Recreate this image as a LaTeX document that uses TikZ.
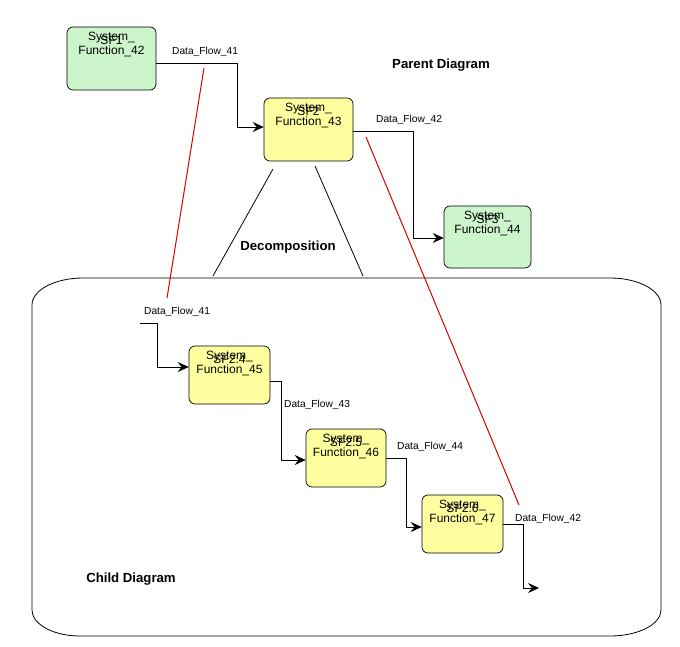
\documentclass[tikz,border=0pt]{standalone}
\usepackage{fontspec}
\setmainfont{Liberation Sans}
\usetikzlibrary{arrows.meta}
\definecolor{boxgreen}{RGB}{204,245,204}
\definecolor{boxyellow}{RGB}{255,255,160}
\tikzset{
  fbox/.style={draw=black, line width=0.7pt, rounded corners=6pt, inner sep=0pt},
  gbox/.style={fbox, fill=boxgreen},
  ybox/.style={fbox, fill=boxyellow},
  boxtext/.style={font=\fontsize{12}{14.5}\selectfont, align=center, inner sep=0pt, anchor=north},
  sftext/.style={font=\fontsize{12}{13}\selectfont, inner sep=0pt, anchor=north},
  flowlbl/.style={font=\fontsize{10.2}{11}\selectfont, inner sep=0pt, anchor=west},
  title/.style={font=\bfseries\fontsize{13.2}{15}\selectfont, inner sep=0pt},
  flow/.style={draw=black, line width=0.7pt, -{Stealth[length=11pt,width=10pt,inset=4pt]}},
  plain/.style={draw=black, line width=0.8pt},
  trace/.style={draw=red!85!black, line width=1pt}
}
\begin{document}
\begin{tikzpicture}[x=1pt,y=-1pt]
\useasboundingbox (0,0) rectangle (680,647);
\fill[white] (0,0) rectangle (680,647);

% child frame
\draw[plain] (83,278) -- (610,278) arc[start angle=-90,end angle=0,x radius=51,y radius=27]
  -- (661,610) arc[start angle=0,end angle=90,x radius=51,y radius=26]
  -- (80,636) arc[start angle=90,end angle=180,x radius=48,y radius=26]
  -- (32,305) arc[start angle=180,end angle=270,x radius=51,y radius=27] -- cycle;

% boxes
\node[gbox, minimum width=89, minimum height=63] (sf1) at (111.5,58.5) {};
\node[ybox, minimum width=89, minimum height=63] (sf2) at (308.5,129.5) {};
\node[gbox, minimum width=87, minimum height=62] (sf3) at (487.5,237) {};
\node[ybox, minimum width=81, minimum height=58] (sf24) at (229.5,375) {};
\node[ybox, minimum width=80, minimum height=58] (sf25) at (346,458) {};
\node[ybox, minimum width=81, minimum height=58] (sf26) at (462.5,524) {};

% box texts
\foreach \b/\n/\s in {sf1/42/SF1, sf2/43/SF2, sf3/44/SF3, sf24/45/SF2.4, sf25/46/SF2.5, sf26/47/SF2.6}{
  \node[sftext] (\b s) at ([yshift=-9pt]\b.north) {\s};
  \node[boxtext] (\b t) at ([yshift=-5pt]\b.north) {System\_\\Function\_\n};
}

% parent flows
\draw[flow] (sf1.east |- 0,63) -- (237,63) -- (237,127) -- (sf2.west |- 0,127);
\node[flowlbl] (l41) at (172,52) {Data\_Flow\_41};
\draw[flow] (sf2.east |- 0,131) -- (413,131) -- (413,238) -- (sf3.west |- 0,238);
\node[flowlbl] (l42) at (376,120) {Data\_Flow\_42};

% child flows
\coordinate (cin) at (140,323);
\coordinate (cout) at (539,588);
\draw[flow] (cin) -- (157,323) -- (157,367) -- (sf24.west |- 0,367);
\node[flowlbl] (c41) at (144,312) {Data\_Flow\_41};
\draw[flow] (sf24.east |- 0,381) -- (281,381) -- (281,460) -- (sf25.west |- 0,460);
\node[flowlbl] (c43) at (284,405) {Data\_Flow\_43};
\draw[flow] (sf25.east |- 0,458) -- (406,458) -- (406,527) -- (sf26.west |- 0,527);
\node[flowlbl] (c44) at (397,447) {Data\_Flow\_44};
\draw[flow] (sf26.east |- 0,524) -- (523,524) -- (523,588) -- (cout);
\node[flowlbl] (c42) at (515,519) {Data\_Flow\_42};

% decomposition
\draw[plain] (273,169) -- (213,276);
\draw[plain] (315,166) -- (363,276);
\node[title] (dec) at (288,247) {Decomposition};
\node[title] (par) at (441,65) {Parent Diagram};
\node[title] (chi) at (131,579) {Child Diagram};

% red traces
\draw[trace] (204,68) -- (167,298);
\draw[trace] (366,137) -- (519,505);
\end{tikzpicture}
\end{document}
